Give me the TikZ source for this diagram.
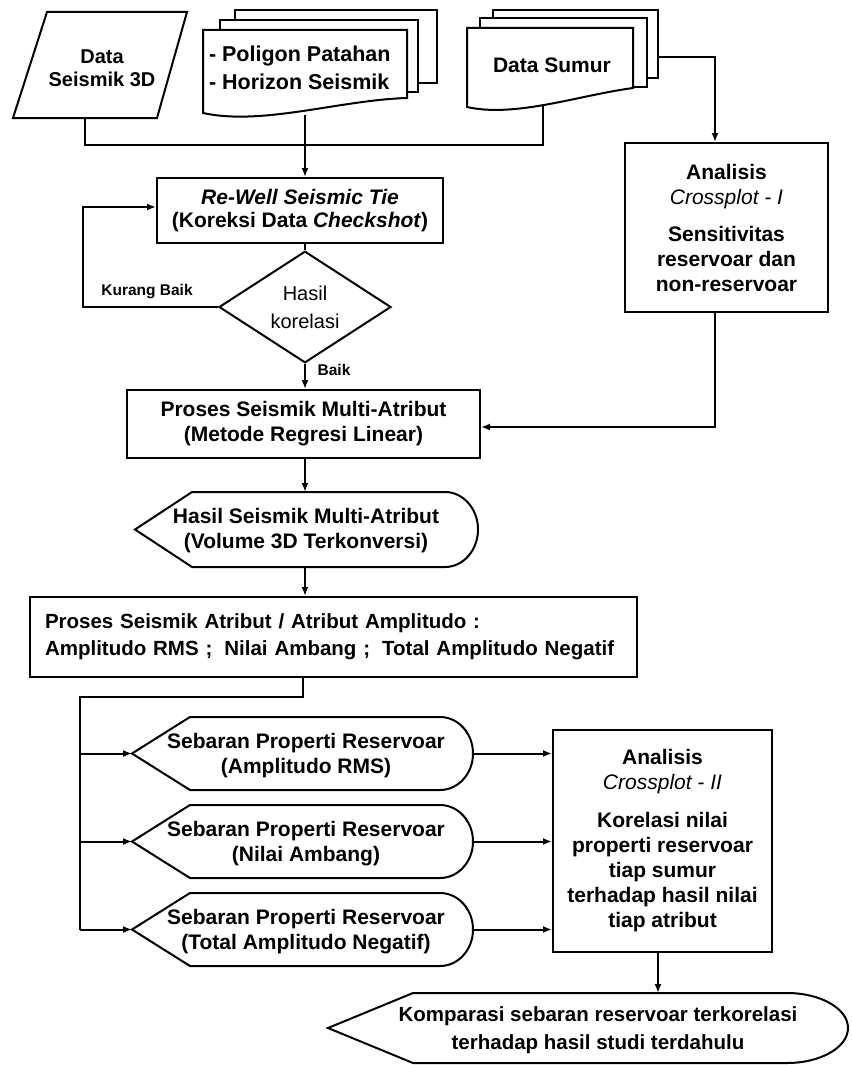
\documentclass[tikz,border=0pt]{standalone}
\usepackage{fontspec}
\setmainfont{Liberation Sans}
\usetikzlibrary{arrows.meta,shapes.geometric}
\begin{document}
\begin{tikzpicture}[x=1pt,y=-1pt,
  line width=2pt,
  every node/.style={inner sep=0pt, font=\bfseries\fontsize{21}{25}\selectfont},
  box/.style={draw, rectangle, align=center},
  txt/.style={align=center},
  lbl/.style={font=\bfseries\fontsize{15.5}{18}\selectfont},
  arr/.style={-{Latex[length=9pt,width=7pt]}},
  page/.style={draw, fill=white},
]
\useasboundingbox (0,0) rectangle (851,1065);
\fill[white] (0,0) rectangle (851,1065);

% ---------- Data Seismik 3D
\draw (47,12) -- (187,12) -- (157,118) -- (13,118) -- cycle;
\node[txt, font=\bfseries\fontsize{20}{23}\selectfont] (seis) at (102,68) {Data\\Seismik 3D};
\coordinate (seisS) at (85,118);

% ---------- Poligon / Horizon document stack
\draw[page] (235,10) rectangle (437,83);
\draw[page] (220,20) rectangle (418,92);
\draw[page] (203,30) -- (407,30) -- (407,98) .. controls (340,100) and (262,126) .. (203,113) -- cycle;
\node[align=left, anchor=west, font=\bfseries\fontsize{21.5}{28}\selectfont] (polig) at (208,68) {- Poligon Patahan\\- Horizon Seismik};
\coordinate (poligS) at (305,115);

% ---------- Data Sumur document stack
\draw[page] (493,10) rectangle (658,78);
\draw[page] (480,18) rectangle (647,87);
\draw[page] (467,28) -- (633,28) -- (633,88) .. controls (580,95) and (515,118) .. (467,107) -- cycle;
\node (sumur) at (552,65) {Data Sumur};
\coordinate (sumurS) at (543,104);
\coordinate (sumurE) at (658,57);

% ---------- junction of inputs
\coordinate (j1) at (305,145);
\draw (seisS) |- (j1);
\draw (sumurS) |- (j1);

% ---------- Re-Well Seismic Tie
\node[box, minimum width=286, minimum height=65, font=\bfseries\fontsize{21}{23}\selectfont] (rewell) at (300,210.5)
  {\textit{Re-Well Seismic Tie}\\(Koreksi Data \textit{Checkshot})};
\draw[arr] (poligS) -- (poligS |- rewell.north);

% ---------- decision
\node[draw, diamond, minimum width=172, minimum height=99, align=center,
      font=\fontsize{20}{28}\selectfont] (dia) at (305,307) {Hasil\\korelasi};
\draw (rewell.south -| dia.north) -- (dia.north);
\coordinate (loopc) at (83,207);
\draw[arr] (dia.west) -| (loopc) -- (loopc -| rewell.west);
\node[lbl] (kurang) at (147,292) {Kurang Baik};

% ---------- Proses Seismik Multi-Atribut
\node[box, minimum width=353, minimum height=68] (multi) at (303.5,424)
  {Proses Seismik Multi-Atribut\\(Metode Regresi Linear)};
\draw[arr] (dia.south) -- (dia.south |- multi.north);
\node[lbl] (baik) at (334,370) {Baik};

% ---------- Analisis Crossplot - I
\node[box, minimum width=203, minimum height=169] (cp1) at (726.5,227.5)
  {Analisis\\\textit{\mdseries Crossplot - I}\\[12pt]Sensitivitas\\reservoar dan\\non-reservoar};
\draw[arr] (sumurE) -| ([xshift=-11.5pt]cp1.north);
\draw[arr] ([xshift=-11.5pt]cp1.south) |- ([yshift=-3pt]multi.east);

% ---------- Hasil Seismik Multi-Atribut (display)
\draw (135,529.5) -- (192,492) -- (445,492)
  arc[start angle=90, end angle=-90, x radius=33pt, y radius=37.5pt] -- (192,567) -- cycle;
\node[txt] (hasil) at (306,531) {Hasil Seismik Multi-Atribut\\(Volume 3D Terkonversi)};
\coordinate (hasilN) at (305,492);
\coordinate (hasilS) at (305,567);
\draw[arr] (multi.south -| hasilN) -- (hasilN);

% ---------- Proses Seismik Atribut
\node[draw, minimum width=607, minimum height=80, align=left, text width=577pt,
      font=\bfseries\fontsize{20.5}{27}\selectfont] (atr) at (333.5,637)
  {Proses Seismik Atribut / Atribut Amplitudo :\\Amplitudo RMS ;\hspace{12pt}Nilai Ambang ;\hspace{12pt}Total Amplitudo Negatif};
\draw[arr] (hasilS) -- (hasilS |- atr.north);
\coordinate (atrS) at (303,677);
\coordinate (j2) at (80,697);
\coordinate (j3) at (80,929.5);
\draw (atrS) |- (j2) -- (j3);

% ---------- Sebaran Properti Reservoar (three displays)
\draw (132,753.5) -- (190,717) -- (440,717)
  arc[start angle=90, end angle=-90, x radius=33pt, y radius=36.5pt] -- (190,790) -- cycle;
\node[txt] (seb1) at (306,756) {Sebaran Properti Reservoar\\(Amplitudo RMS)};
\coordinate (seb1W) at (132,753.5);
\coordinate (seb1E) at (473,753.5);

\draw (132,841.5) -- (190,805) -- (440,805)
  arc[start angle=90, end angle=-90, x radius=33pt, y radius=36.5pt] -- (190,878) -- cycle;
\node[txt] (seb2) at (306,844) {Sebaran Properti Reservoar\\(Nilai Ambang)};
\coordinate (seb2W) at (132,841.5);
\coordinate (seb2E) at (473,841.5);

\draw (132,929.5) -- (190,893) -- (440,893)
  arc[start angle=90, end angle=-90, x radius=33pt, y radius=36.5pt] -- (190,966) -- cycle;
\node[txt] (seb3) at (306,932) {Sebaran Properti Reservoar\\(Total Amplitudo Negatif)};
\coordinate (seb3W) at (132,929.5);
\coordinate (seb3E) at (473,929.5);

\draw[arr] (j2 |- seb1W) -- (seb1W);
\draw[arr] (j2 |- seb2W) -- (seb2W);
\draw[arr] (j3) -- (seb3W);

% ---------- Analisis Crossplot - II
\node[box, minimum width=219, minimum height=222] (cp2) at (662.5,841)
  {Analisis\\\textit{\mdseries Crossplot - II}\\[13pt]Korelasi nilai\\properti reservoar\\tiap sumur\\terhadap hasil nilai\\tiap atribut};
\draw[arr] (seb1E) -- (seb1E -| cp2.west);
\draw[arr] (seb2E) -- (seb2E -| cp2.west);
\draw[arr] (seb3E) -- (seb3E -| cp2.west);

% ---------- Komparasi
\draw (328,1028) -- (413,993) -- (787,993)
  arc[start angle=90, end angle=-90, x radius=61pt, y radius=35pt] -- (413,1063) -- cycle;
\node[txt, font=\bfseries\fontsize{20.5}{28}\selectfont] (komp) at (598,1030)
  {Komparasi sebaran reservoar terkorelasi\\terhadap hasil studi terdahulu};
\coordinate (kompN) at (658,993);
\draw[arr] ([xshift=-4.5pt]cp2.south) -- (kompN);
\end{tikzpicture}
\end{document}
